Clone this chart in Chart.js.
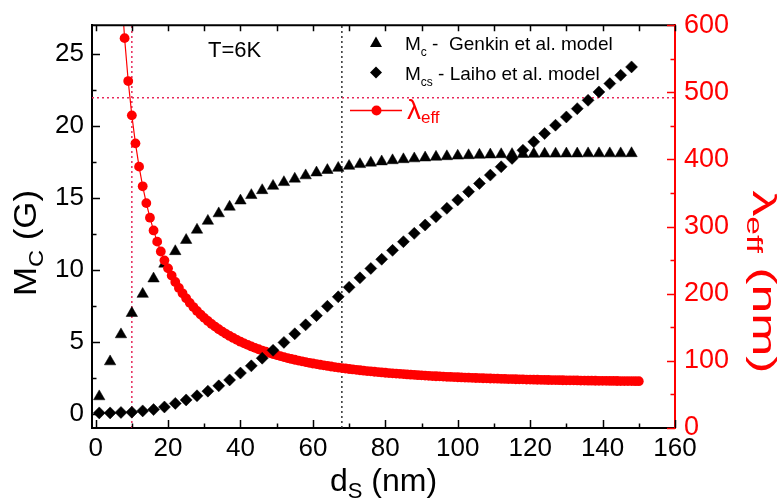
<!DOCTYPE html>
<html>
<head>
<meta charset="utf-8">
<script src="https://cdn.jsdelivr.net/npm/chart.js@4/dist/chart.umd.min.js"></script>
<style>
  html, body { margin: 0; padding: 0; background: #ffffff; }
  #wrap { width: 781px; height: 501px; position: relative; }
</style>
</head>
<body>
<div id="wrap"><canvas id="chart"></canvas></div>
<script>
// Superconductor thickness d_S (nm) for the two M_C models
const dsModel = [1, 4, 7, 10, 13, 16, 19, 22, 25, 28, 31, 34, 37, 40, 43, 46, 49, 52, 55, 58,
  61, 64, 67, 70, 73, 76, 79, 82, 85, 88, 91, 94, 97, 100, 103, 106, 109, 112, 115, 118,
  121, 124, 127, 130, 133, 136, 139, 142, 145, 148];

// M_c (G) - Genkin et al. model
const mcGenkin = [1.19, 3.62, 5.50, 6.98, 8.31, 9.38, 10.41, 11.28, 12.06, 12.77, 13.39, 13.91, 14.37,
  14.80, 15.18, 15.52, 15.82, 16.08, 16.32, 16.55, 16.75, 16.92, 17.07, 17.21, 17.33, 17.43,
  17.52, 17.60, 17.67, 17.73, 17.79, 17.84, 17.88, 17.92, 17.95, 17.98, 18.00, 18.02, 18.03,
  18.04, 18.05, 18.06, 18.06, 18.07, 18.07, 18.08, 18.08, 18.08, 18.08, 18.09];

// M_cs (G) - Laiho et al. model
const mcsLaiho = [0.05, 0.05, 0.08, 0.10, 0.19, 0.28, 0.46, 0.71, 0.95, 1.24, 1.56, 1.93, 2.34,
  2.82, 3.32, 3.85, 4.40, 4.95, 5.55, 6.17, 6.81, 7.46, 8.12, 8.78, 9.44, 10.09, 10.73, 11.35,
  11.95, 12.53, 13.11, 13.69, 14.27, 14.85, 15.43, 16.00, 16.58, 17.16, 17.74, 18.31, 18.89,
  19.47, 20.05, 20.62, 21.20, 21.78, 22.36, 22.94, 23.52, 24.10];

// Thickness grid (nm) for the effective penetration depth
const dsLambda = [7, 8, 9, 10, 11, 12, 13, 14, 15, 16, 17, 18, 19, 20, 21, 22, 23, 24, 25, 26,
  27, 28, 29, 30, 31, 32, 33, 34, 35, 36, 37, 38, 39, 40, 41, 42, 43, 44, 45, 46, 47, 48, 49, 50,
  51, 52, 53, 54, 55, 56, 57, 58, 59, 60, 61, 62, 63, 64, 65, 66, 67, 68, 69, 70, 71, 72, 73, 74,
  75, 76, 77, 78, 79, 80, 81, 82, 83, 84, 85, 86, 87, 88, 89, 90, 91, 92, 93, 94, 95, 96, 97, 98,
  99, 100, 101, 102, 103, 104, 105, 106, 107, 108, 109, 110, 111, 112, 113, 114, 115, 116, 117,
  118, 119, 120, 121, 122, 123, 124, 125, 126, 127, 128, 129, 130, 131, 132, 133, 134, 135, 136,
  137, 138, 139, 140, 141, 142, 143, 144, 145, 146, 147, 148, 149, 150];

// lambda_eff (nm)
const lambdaEff = [662.9, 580.7, 516.8, 465.7, 424.0, 389.3, 360.0, 335.0, 313.3, 294.3, 277.6,
  262.9, 249.7, 237.8, 227.1, 217.5, 208.6, 200.6, 193.2, 186.4, 180.2, 174.4, 169.0, 164.0,
  159.4, 155.0, 151.0, 147.1, 143.6, 140.2, 137.1, 134.1, 131.3, 128.6, 126.1, 123.8, 121.5,
  119.4, 117.3, 115.4, 113.6, 111.8, 110.2, 108.6, 107.1, 105.6, 104.2, 102.9, 101.7, 100.4,
  99.3, 98.2, 97.1, 96.1, 95.1, 94.2, 93.3, 92.4, 91.6, 90.8, 90.0, 89.3, 88.6, 87.9, 87.2, 86.6,
  86.0, 85.4, 84.8, 84.3, 83.8, 83.3, 82.8, 82.3, 81.8, 81.4, 81.0, 80.6, 80.2, 79.8, 79.4, 79.1,
  78.7, 78.4, 78.0, 77.7, 77.4, 77.1, 76.9, 76.6, 76.3, 76.1, 75.8, 75.6, 75.3, 75.1, 74.9, 74.7,
  74.5, 74.3, 74.1, 73.9, 73.7, 73.6, 73.4, 73.2, 73.1, 72.9, 72.8, 72.6, 72.5, 72.4, 72.2, 72.1,
  72.0, 71.9, 71.8, 71.6, 71.5, 71.4, 71.3, 71.2, 71.1, 71.0, 70.9, 70.9, 70.8, 70.7, 70.6, 70.5,
  70.5, 70.4, 70.3, 70.3, 70.2, 70.1, 70.1, 70.0, 69.9, 69.9, 69.8, 69.8, 69.7, 69.7];

// Reference markers: d_S = 10 nm (red), d_S = 68 nm (black), lambda_eff = 492 nm (red)
const refDsRed = [10];
const refDsBlack = [68];
const refLambda = [492];

// Axis ranges and major tick values
const xRange = [-1, 160];
const xTicks = [0, 20, 40, 60, 80, 100, 120, 140, 160];
const mRange = [-1, 27];
const mTicks = [0, 5, 10, 15, 20, 25];
const lRange = [0, 600];
const lTicks = [0, 100, 200, 300, 400, 500, 600];

const FONT = '"Liberation Sans", Arial, Helvetica, sans-serif';
const RED = 'rgb(255,0,0)';
const DOT_RED = 'rgb(232,40,90)';

const pts = (xs, ys) => xs.map((x, i) => ({ x: x, y: ys[i] }));

// Draw a run of [text, size, dy] pieces
function richWidth(ctx, parts) {
  let w = 0;
  parts.forEach(p => { ctx.font = p[1] + 'px ' + FONT; w += ctx.measureText(p[0]).width; });
  return w;
}
function richText(ctx, parts, x, y) {
  let cx = x;
  parts.forEach(p => {
    ctx.font = p[1] + 'px ' + FONT;
    ctx.fillText(p[0], cx, y + (p[2] || 0));
    cx += ctx.measureText(p[0]).width;
  });
}

const decorations = {
  id: 'decorations',
  afterDraw(chart) {
    const ctx = chart.ctx;
    const a = chart.chartArea;
    const sx = chart.scales.x, sy = chart.scales.y, sl = chart.scales.y2;
    ctx.save();

    // top frame
    ctx.strokeStyle = '#000';
    ctx.lineWidth = 2;
    ctx.beginPath();
    ctx.moveTo(a.left - 1, a.top);
    ctx.lineTo(a.right, a.top);
    ctx.stroke();

    // inward tick marks
    ctx.lineWidth = 1.5;
    ctx.beginPath();
    for (let v = xTicks[0]; v <= xTicks[xTicks.length - 1]; v += 10) {
      const px = Math.round(sx.getPixelForValue(v)) + 0.5;
      const major = xTicks.includes(v);
      ctx.moveTo(px, a.bottom);
      ctx.lineTo(px, a.bottom - (major ? 8 : 4.5));
      ctx.moveTo(px, a.top);
      ctx.lineTo(px, a.top + 6);
    }
    for (let v = mTicks[0]; v <= mTicks[mTicks.length - 1]; v += 2.5) {
      const py = Math.round(sy.getPixelForValue(v)) + 0.5;
      const major = mTicks.includes(v);
      ctx.moveTo(a.left, py);
      ctx.lineTo(a.left + (major ? 8 : 4.5), py);
    }
    ctx.stroke();

    ctx.strokeStyle = RED;
    ctx.beginPath();
    for (let v = lTicks[0]; v <= lTicks[lTicks.length - 1]; v += 50) {
      const py = Math.round(sl.getPixelForValue(v)) + 0.5;
      const major = lTicks.includes(v);
      ctx.moveTo(a.right, py);
      ctx.lineTo(a.right - (major ? 8 : 4.5), py);
    }
    ctx.stroke();

    ctx.textBaseline = 'alphabetic';
    ctx.textAlign = 'left';

    // temperature annotation
    ctx.fillStyle = '#000';
    ctx.font = '22px ' + FONT;
    ctx.fillText('T=6K', 208, 57);

    // legend
    ctx.fillStyle = '#000';
    ctx.beginPath();
    ctx.moveTo(376, 36.5); ctx.lineTo(382, 47); ctx.lineTo(370, 47); ctx.closePath();
    ctx.fill();
    richText(ctx, [['M', 19], ['c', 12, 6], [' -  Genkin et al. model', 19]], 405, 50);
    ctx.beginPath();
    ctx.moveTo(376, 66.5); ctx.lineTo(382, 72.5); ctx.lineTo(376, 78.5); ctx.lineTo(370, 72.5); ctx.closePath();
    ctx.fill();
    richText(ctx, [['M', 19], ['cs', 12, 6], [' - Laiho et al. model', 19]], 405, 80);
    ctx.strokeStyle = RED;
    ctx.lineWidth = 1.5;
    ctx.beginPath(); ctx.moveTo(350, 110.5); ctx.lineTo(402, 110.5); ctx.stroke();
    ctx.fillStyle = RED;
    ctx.beginPath(); ctx.arc(376.5, 110.5, 5, 0, Math.PI * 2); ctx.fill();
    richText(ctx, [['\u03bb', 28], ['eff', 17, 4]], 407, 119);

    // x-axis title
    ctx.fillStyle = '#000';
    let parts = [['d', 32], ['S', 22, 7], [' (nm)', 32]];
    let w = richWidth(ctx, parts);
    richText(ctx, parts, (a.left + a.right) / 2 - w / 2, 491);

    // left axis title (rotated)
    parts = [['M', 31], ['C', 21, 7], [' (G)', 31]];
    w = richWidth(ctx, parts);
    ctx.save();
    ctx.translate(36, 243);
    ctx.rotate(-Math.PI / 2);
    ctx.scale(106 / w, 1);
    richText(ctx, parts, -w / 2, 0);
    ctx.restore();

    // right axis title (rotated)
    ctx.fillStyle = RED;
    parts = [['\u03bb', 34], ['eff', 22, 6], [' (nm)', 34]];
    w = richWidth(ctx, parts);
    ctx.save();
    ctx.translate(753, 282);
    ctx.rotate(Math.PI / 2);
    ctx.scale(183 / w, 1);
    richText(ctx, parts, -w / 2, 0);
    ctx.restore();

    ctx.restore();
  }
};

const refLine = (xs, ys, axis, color) => ({
  data: pts(xs, ys), yAxisID: axis, showLine: true, borderColor: color,
  borderWidth: 1.5, borderDash: [2, 3], pointRadius: 0, fill: false, clip: 0
});

new Chart(document.getElementById('chart'), {
  type: 'scatter',
  data: {
    datasets: [
      {
        label: 'Mcs - Laiho et al. model',
        data: pts(dsModel, mcsLaiho), yAxisID: 'y',
        pointStyle: 'rectRot', pointRadius: 6, pointBackgroundColor: '#000',
        pointBorderColor: '#000', pointBorderWidth: 0.5, showLine: false,
        clip: { left: 8, top: 8, right: 8, bottom: 8 }
      },
      {
        label: 'lambda_eff',
        data: pts(dsLambda, lambdaEff), yAxisID: 'y2',
        pointStyle: 'circle', pointRadius: 4.9, pointBackgroundColor: RED,
        pointBorderColor: RED, pointBorderWidth: 0, showLine: true,
        borderColor: RED, borderWidth: 1.2, tension: 0,
        clip: { left: 8, top: 0, right: 8, bottom: 8 }
      },
      {
        label: 'Mc - Genkin et al. model',
        data: pts(dsModel, mcGenkin), yAxisID: 'y',
        pointStyle: 'triangle', pointRadius: 6.6, pointBackgroundColor: '#000',
        pointBorderColor: '#000', pointBorderWidth: 0.5, showLine: false,
        clip: { left: 8, top: 8, right: 8, bottom: 8 }
      },
      refLine([refDsRed[0], refDsRed[0]], mRange, 'y', DOT_RED),
      refLine(xRange, [refLambda[0], refLambda[0]], 'y2', DOT_RED),
      refLine([refDsBlack[0], refDsBlack[0]], mRange, 'y', '#333')
    ]
  },
  options: {
    responsive: true,
    maintainAspectRatio: false,
    devicePixelRatio: 1,
    animation: false,
    events: [],
    layout: { padding: { top: 20, left: 0, right: 0, bottom: 0 } },
    plugins: { legend: { display: false }, tooltip: { enabled: false }, title: { display: false } },
    scales: {
      x: {
        type: 'linear', position: 'bottom', min: xRange[0], max: xRange[1],
        afterBuildTicks: s => { s.ticks = xTicks.map(v => ({ value: v })); },
        afterFit: s => { s.height = 73; },
        grid: { display: false, drawTicks: false },
        border: { display: true, color: '#000', width: 2 },
        ticks: { color: '#000', font: { family: FONT, size: 26 }, padding: 5, maxRotation: 0, autoSkip: false }
      },
      y: {
        type: 'linear', position: 'left', min: mRange[0], max: mRange[1],
        afterBuildTicks: s => { s.ticks = mTicks.map(v => ({ value: v })); },
        afterFit: s => { s.width = 92; },
        grid: { display: false, drawTicks: false },
        border: { display: true, color: '#000', width: 2 },
        ticks: { color: '#000', font: { family: FONT, size: 26 }, padding: 8, autoSkip: false }
      },
      y2: {
        type: 'linear', position: 'right', min: lRange[0], max: lRange[1],
        afterBuildTicks: s => { s.ticks = lTicks.map(v => ({ value: v })); },
        afterFit: s => { s.width = 106; },
        grid: { display: false, drawTicks: false },
        border: { display: true, color: RED, width: 2 },
        ticks: { color: RED, font: { family: FONT, size: 27 }, padding: 9, autoSkip: false }
      }
    }
  },
  plugins: [decorations]
});
</script>
</body>
</html>
